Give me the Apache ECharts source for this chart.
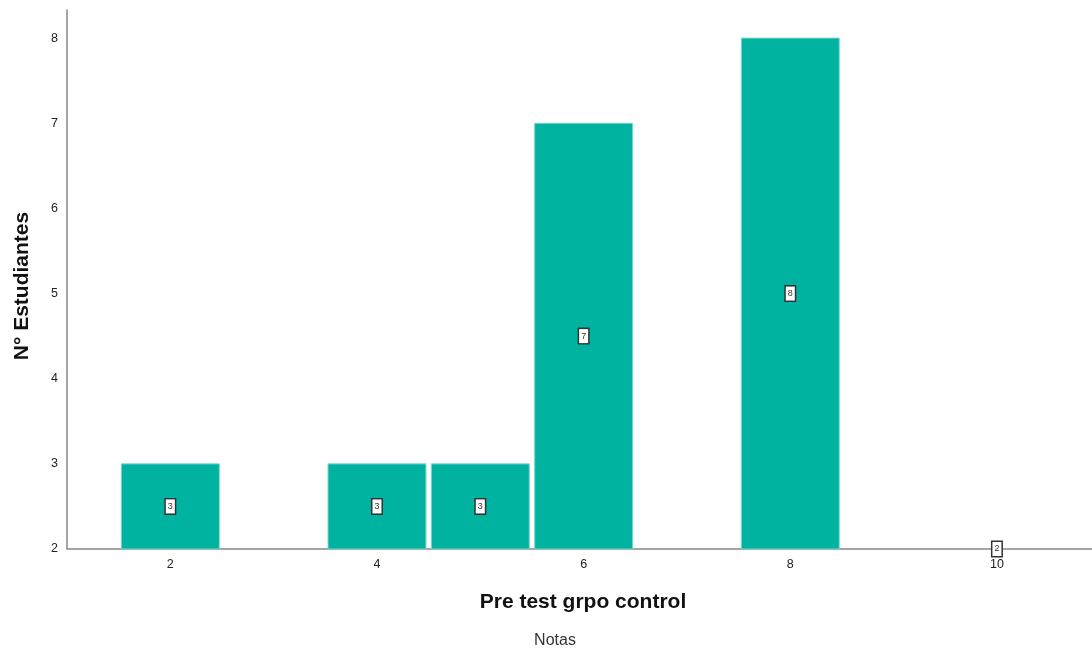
<!DOCTYPE html>
<html>
<head>
<meta charset="utf-8">
<script src="https://cdn.jsdelivr.net/npm/echarts@6/dist/echarts.min.js"></script>
<style>html,body{margin:0;padding:0;background:#fff;}#c{width:1092px;height:653px;}</style>
</head>
<body>
<div id="c"></div>
<script>
const notas = [2, 4, 5, 6, 8, 10];
const estudiantes = [3, 3, 3, 7, 8, 2];
const xTicks = [2, 4, 6, 8, 10];
const yTicks = [2, 3, 4, 5, 6, 7, 8];
const xTitle = 'Pre test grpo control';
const yTitle = 'N° Estudiantes';
const subTitle = 'Notas';

const yMin = 2, yMax = 8.33, xMin = 1, xMax = 10.92;
const barUnits = 0.948;
const data = notas.map((n, i) => [n, estudiantes[i]]);
const FONT = 'Liberation Sans, Arial';

const chart = echarts.init(document.getElementById('c'), null, {renderer: 'canvas'});
chart.setOption({
  animation: false,
  backgroundColor: '#fff',
  grid: {left: 67, right: 0, top: 10, bottom: 104, containLabel: false},
  xAxis: {
    type: 'value', min: xMin, max: xMax, interval: 1,
    splitLine: {show: false},
    axisTick: {show: false},
    axisLine: {onZero: false, lineStyle: {color: '#888', width: 1.5}},
    axisLabel: {
      color: '#222', fontSize: 12.5, fontFamily: FONT, margin: 9,
      showMaxLabel: false, showMinLabel: false,
      formatter: v => xTicks.includes(v) ? String(v) : ''
    }
  },
  yAxis: {
    type: 'value', min: yMin, max: yMax, interval: 1,
    splitLine: {show: false},
    axisTick: {show: false},
    axisLine: {show: true, lineStyle: {color: '#888', width: 1.5}},
    axisLabel: {
      color: '#222', fontSize: 12.5, fontFamily: FONT, margin: 9,
      padding: [3, 0, 0, 0],
      showMaxLabel: false,
      formatter: v => yTicks.includes(v) ? String(v) : ''
    }
  },
  graphic: [{
    type: 'text', x: 583, y: 602,
    style: {text: xTitle, fontSize: 21, fontWeight: 'bold', fill: '#111', fontFamily: FONT, align: 'center', verticalAlign: 'middle'}
  }, {
    type: 'text', x: 22, y: 286, rotation: Math.PI / 2,
    style: {text: yTitle, fontSize: 21, fontWeight: 'bold', fill: '#111', fontFamily: FONT, align: 'center', verticalAlign: 'middle'}
  }, {
    type: 'text', x: 555, y: 641,
    style: {text: subTitle, fontSize: 16, fill: '#333', fontFamily: FONT, align: 'center', verticalAlign: 'middle'}
  }],
  series: [{
    type: 'custom',
    data: data,
    encode: {x: 0, y: 1},
    renderItem: function (params, api) {
      const x = api.value(0), v = api.value(1);
      const pTop = api.coord([x - barUnits / 2, v]);
      const pBot = api.coord([x + barUnits / 2, yMin]);
      const children = [];
      const h = pBot[1] - pTop[1];
      if (h > 0.5) {
        children.push({
          type: 'rect',
          shape: {x: pTop[0], y: pTop[1], width: pBot[0] - pTop[0], height: h},
          style: {fill: '#00b2a0', stroke: '#7fd6cb', lineWidth: 1}
        });
      }
      const c = api.coord([x, yMin]);
      children.push({
        type: 'text',
        x: c[0], y: (pTop[1] + pBot[1]) / 2,
        style: {
          text: String(v), fontSize: 9, fill: '#333', fontFamily: FONT,
          align: 'center', verticalAlign: 'middle',
          backgroundColor: '#fff', borderColor: '#333', borderWidth: 1.5, padding: [3, 2, 2, 2]
        },
        z2: 10
      });
      return {type: 'group', children: children};
    }
  }]
});
</script>
</body>
</html>
